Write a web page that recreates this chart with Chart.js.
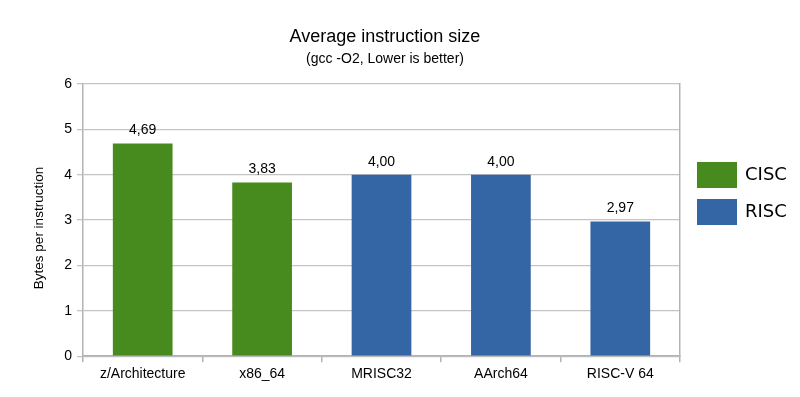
<!DOCTYPE html>
<html>
<head>
<meta charset="utf-8">
<script src="https://cdn.jsdelivr.net/npm/chart.js@4"></script>
<style>
  html, body { margin: 0; padding: 0; background: #fff; }
  #wrap { width: 800px; height: 397px; }
</style>
</head>
<body>
<div id="wrap"><canvas id="barChart" width="800" height="397"></canvas></div>
<script>
// Data
const categories = ['z/Architecture', 'x86_64', 'MRISC32', 'AArch64', 'RISC-V 64'];
const ciscValues = [4.69, 3.83, null, null, null];
const riscValues = [null, null, 4.00, 4.00, 2.97];
const yTicks = [0, 1, 2, 3, 4, 5, 6];
const yTitle = 'Bytes per instruction';

const greenColor = '#478a1d';
const blueColor = '#3465a4';
const gridColor = '#c4c4c4';
const axisColor = '#b3b3b3';

// value labels above each bar, with decimal comma
const valueLabels = {
  id: 'valueLabels',
  afterDatasetsDraw(chart) {
    const ctx = chart.ctx;
    ctx.save();
    ctx.font = '14px "Liberation Sans", Arial, sans-serif';
    ctx.fillStyle = '#000';
    ctx.textAlign = 'center';
    ctx.textBaseline = 'bottom';
    chart.data.datasets.forEach((ds, i) => {
      const meta = chart.getDatasetMeta(i);
      meta.data.forEach((bar, j) => {
        const v = ds.data[j];
        if (v === null || v === undefined) return;
        ctx.fillText(v.toFixed(2).replace('.', ','), bar.x, bar.y - 6);
      });
    });
    ctx.restore();
  }
};

// y axis title, centred over the axis including the category labels
const axisTitle = {
  id: 'axisTitle',
  afterDraw(chart) {
    const ctx = chart.ctx;
    const y = chart.scales.y;
    const x = chart.scales.x;
    ctx.save();
    ctx.font = '13.5px "Liberation Sans", Arial, sans-serif';
    ctx.fillStyle = '#000';
    ctx.textAlign = 'center';
    ctx.textBaseline = 'middle';
    ctx.translate(y.left + 7, (y.top + x.bottom - 15) / 2);
    ctx.rotate(-Math.PI / 2);
    ctx.fillText(yTitle, 0, 0);
    ctx.restore();
  }
};

// legend on the right with big swatches
const sideLegend = {
  id: 'sideLegend',
  afterDraw(chart) {
    const ctx = chart.ctx;
    const area = chart.chartArea;
    ctx.save();
    ctx.font = '18px "DejaVu Sans", sans-serif';
    ctx.textBaseline = 'middle';
    ctx.textAlign = 'left';
    chart.data.datasets.forEach((ds, i) => {
      const x = area.right + 17;
      const y = 162 + i * 37;
      ctx.fillStyle = ds.backgroundColor;
      ctx.fillRect(x, y, 40, 26);
      ctx.fillStyle = '#000';
      ctx.fillText(ds.label, x + 48, y + 13);
    });
    ctx.restore();
  }
};

const ctx = document.getElementById('barChart').getContext('2d');
const chart = new Chart(ctx, {
  type: 'bar',
  data: {
    labels: categories,
    datasets: [{
      label: 'CISC',
      data: ciscValues,
      backgroundColor: greenColor,
      barPercentage: 0.5,
      categoryPercentage: 1.0
    }, {
      label: 'RISC',
      data: riscValues,
      backgroundColor: blueColor,
      barPercentage: 0.5,
      categoryPercentage: 1.0
    }]
  },
  options: {
    responsive: false,
    animation: false,
    layout: { padding: { left: 32, right: 62, top: 0, bottom: 10 } },
    plugins: {
      legend: { display: false },
      tooltip: { enabled: false },
      title: {
        display: true,
        text: 'Average instruction size',
        color: '#000',
        font: { family: '"Liberation Sans", Arial, sans-serif', size: 18, weight: 'normal' },
        padding: { top: 26, bottom: 0 }
      },
      subtitle: {
        display: true,
        text: '(gcc -O2, Lower is better)',
        color: '#000',
        font: { family: '"Liberation Sans", Arial, sans-serif', size: 14, weight: 'normal' },
        padding: { top: 3, bottom: 16.6 }
      }
    },
    scales: {
      x: {
        stacked: true,
        grid: {
          offset: true,
          drawOnChartArea: false,
          drawTicks: true,
          tickLength: 6,
          color: axisColor,
          lineWidth: 1.5
        },
        border: { display: true, color: axisColor, width: 1.5 },
        ticks: {
          color: '#000',
          padding: 4,
          font: { family: '"Liberation Sans", Arial, sans-serif', size: 14 }
        }
      },
      y: {
        min: 0,
        max: 6,
        afterBuildTicks(scale) { scale.ticks = yTicks.map(v => ({ value: v })); },
        afterFit(scale) { scale.width = 51; },
        grid: { color: gridColor, lineWidth: 1.3, tickLength: 6 },
        border: { display: true, color: axisColor, width: 1.5 },
        ticks: {
          color: '#000',
          padding: 5,
          font: { family: '"Liberation Sans", Arial, sans-serif', size: 14 }
        }
      },
      y2: {
        position: 'right',
        min: 0,
        max: 6,
        afterFit(scale) { scale.width = 58; },
        grid: { display: false },
        border: { display: true, color: axisColor, width: 1.5 },
        ticks: { display: false }
      }
    }
  },
  plugins: [valueLabels, axisTitle, sideLegend]
});
</script>
</body>
</html>
